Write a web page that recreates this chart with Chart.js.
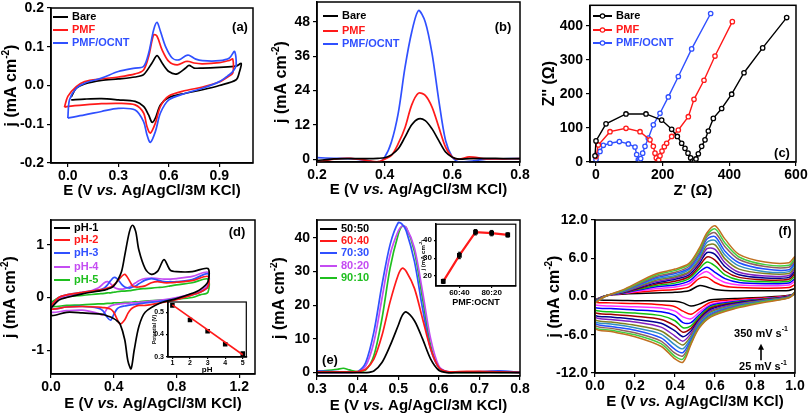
<!DOCTYPE html>
<html>
<head>
<meta charset="utf-8">
<script src="https://cdn.jsdelivr.net/npm/chart.js@4.4.1/dist/chart.umd.min.js"></script>
<style>
  body { margin: 0; background: #fff; width: 810px; height: 416px; position: relative; overflow: hidden; }
  canvas { position: absolute; }
</style>
</head>
<body>
<canvas id="pa" width="270" height="206" style="left:0;top:0"></canvas>
<canvas id="pb" width="270" height="206" style="left:270px;top:0"></canvas>
<canvas id="pc" width="270" height="206" style="left:540px;top:0"></canvas>
<canvas id="pd" width="270" height="210" style="left:0;top:206px"></canvas>
<canvas id="pe" width="270" height="210" style="left:270px;top:206px"></canvas>
<canvas id="pf" width="270" height="210" style="left:540px;top:206px"></canvas>
<canvas id="pdi" width="102" height="78" style="left:150px;top:296px"></canvas>
<canvas id="pei" width="104" height="92" style="left:418px;top:218px"></canvas>
<script>
// ---- (a) CV of bare / PMF / PMF-OCNT ----
const aXTicks = [0, 0.3, 0.6, 0.9];
const aYTicks = [-0.2, -0.1, 0, 0.1, 0.2];
const aBareX = [0.02, 0.05, 0.1, 0.2, 0.3, 0.4, 0.45, 0.5, 0.53, 0.56, 0.6, 0.65, 0.7, 0.72, 0.75, 0.8, 0.9, 1.0, 1.03, 1.02, 1.0, 0.9, 0.8, 0.7, 0.6, 0.55, 0.52, 0.5, 0.48, 0.45, 0.4, 0.3, 0.2, 0.1, 0.02];
const aBareY = [-0.03, -0.007, 0.004, 0.013, 0.017, 0.022, 0.028, 0.058, 0.077, 0.058, 0.036, 0.03, 0.045, 0.052, 0.045, 0.045, 0.047, 0.05, 0.057, 0.036, 0.015, 0.0, -0.011, -0.02, -0.031, -0.05, -0.084, -0.095, -0.076, -0.054, -0.041, -0.037, -0.034, -0.035, -0.037];
const aPmfX = [-0.02, 0.0, 0.05, 0.1, 0.2, 0.3, 0.4, 0.45, 0.48, 0.51, 0.53, 0.56, 0.6, 0.65, 0.7, 0.72, 0.75, 0.8, 0.9, 0.96, 0.98, 0.98, 0.95, 0.9, 0.8, 0.7, 0.6, 0.55, 0.52, 0.49, 0.47, 0.45, 0.4, 0.3, 0.2, 0.1, 0.0, -0.02];
const aPmfY = [-0.056, -0.028, -0.003, 0.010, 0.017, 0.022, 0.030, 0.040, 0.075, 0.131, 0.127, 0.092, 0.062, 0.053, 0.062, 0.062, 0.058, 0.056, 0.059, 0.065, 0.068, 0.032, 0.022, 0.009, -0.004, -0.013, -0.027, -0.054, -0.097, -0.123, -0.106, -0.071, -0.05, -0.046, -0.047, -0.05, -0.054, -0.056];
const aOcntX = [0.0, 0.01, 0.05, 0.1, 0.2, 0.3, 0.4, 0.45, 0.48, 0.51, 0.53, 0.55, 0.58, 0.62, 0.66, 0.7, 0.72, 0.76, 0.8, 0.9, 0.96, 0.99, 1.0, 0.98, 0.95, 0.9, 0.8, 0.7, 0.6, 0.55, 0.52, 0.49, 0.47, 0.45, 0.4, 0.3, 0.2, 0.1, 0.0];
const aOcntY = [-0.084, -0.037, -0.007, 0.006, 0.019, 0.036, 0.045, 0.049, 0.083, 0.144, 0.163, 0.14, 0.101, 0.071, 0.066, 0.077, 0.078, 0.068, 0.064, 0.064, 0.071, 0.088, 0.053, 0.036, 0.025, 0.010, -0.007, -0.02, -0.037, -0.071, -0.119, -0.147, -0.127, -0.093, -0.063, -0.059, -0.067, -0.076, -0.084];

// ---- (b) DPV ----
const bXTicks = [0.2, 0.4, 0.6, 0.8];
const bYTicks = [0, 12, 24, 36, 48];
const bX = [0.2, 0.25, 0.3, 0.35, 0.38, 0.4, 0.42, 0.44, 0.46, 0.48, 0.5, 0.52, 0.54, 0.56, 0.58, 0.6, 0.62, 0.65, 0.7, 0.75, 0.8];
const bBare = [-0.5, 0.1, 0.2, 0.2, 0.3, 0.5, 1.5, 3.6, 7.7, 12.0, 14.1, 13.5, 10.6, 6.5, 2.5, 0.7, 0.0, 0.2, 0.3, 0.2, 0.2];
const bPmf = [-1.0, 0.0, 0.3, -0.5, -0.9, 0.0, 1.3, 5.4, 11.0, 19.0, 23.1, 22.3, 18.2, 11.2, 4.2, 0.7, 0.0, 0.8, 0.1, 0.1, 0.2];
const bOcnt = [0.5, 0.3, 0.2, -0.5, -1.2, 0.7, 6.0, 16.0, 32.0, 44.5, 52.0, 48.0, 37.0, 20.6, 6.5, 0.7, -1.0, -0.8, 0.0, 0.1, 0.2];

// ---- (c) Nyquist ----
const cXTicks = [0, 200, 400, 600];
const cYTicks = [0, 100, 200, 300, 400];
const cBareX = [-3, 0, 30, 90, 150, 197, 227, 244, 257, 267, 276, 284, 290, 295, 300, 307, 317, 327, 337, 352, 377, 407, 444, 500, 572];
const cBareY = [18, 62, 112, 141, 141, 123, 96, 75, 55, 40, 26, 12, 3, 1, 9, 24, 46, 65, 91, 128, 157, 199, 262, 335, 424];
const cPmfX = [0, 7, 42, 90, 132, 162, 172, 177, 181, 185, 188, 192, 198, 205, 212, 227, 247, 277, 294, 324, 357, 409];
const cPmfY = [16, 50, 89, 99, 89, 65, 46, 26, 12, 2, 6, 18, 32, 45, 55, 75, 94, 133, 184, 240, 311, 412];
const cOcntX = [0, 2, 12, 22, 42, 70, 97, 117, 122, 127, 130, 134, 140, 147, 157, 172, 192, 217, 247, 287, 344];
const cOcntY = [7, 21, 31, 49, 55, 60, 53, 44, 22, 6, 2, 10, 26, 46, 70, 109, 143, 191, 251, 332, 436];

// ---- (d) CV at different pH ----
const dXTicks = [0, 0.4, 0.8, 1.2];
const dYTicks = [-1, 0, 1];
const dLabels = ['pH-1', 'pH-2', 'pH-3', 'pH-4', 'pH-5'];
const dTopX = [0, 0.05, 0.1, 0.2, 0.3, 0.34, 0.36, 0.38, 0.4, 0.42, 0.45, 0.47, 0.5, 0.52, 0.54, 0.56, 0.6, 0.64, 0.68, 0.72, 0.76, 0.8, 0.9, 1.0];
const dBotX = [1.0, 0.95, 0.9, 0.8, 0.7, 0.6, 0.56, 0.53, 0.51, 0.49, 0.47, 0.44, 0.42, 0.4, 0.38, 0.36, 0.33, 0.3, 0.2, 0.1, 0.0];
const dTopY = [
  [-0.2, -0.05, 0.0, 0.07, 0.12, 0.14, 0.16, 0.18, 0.22, 0.3, 0.5, 0.8, 1.25, 1.37, 1.25, 0.9, 0.55, 0.44, 0.5, 0.72, 0.52, 0.49, 0.49, 0.55],
  [-0.15, 0.0, 0.05, 0.1, 0.14, 0.16, 0.18, 0.2, 0.24, 0.3, 0.4, 0.44, 0.32, 0.22, 0.2, 0.2, 0.22, 0.28, 0.3, 0.28, 0.28, 0.29, 0.32, 0.4],
  [-0.15, 0.0, 0.05, 0.1, 0.14, 0.18, 0.24, 0.32, 0.38, 0.36, 0.25, 0.2, 0.18, 0.2, 0.22, 0.26, 0.33, 0.36, 0.33, 0.3, 0.3, 0.3, 0.34, 0.45],
  [-0.2, -0.02, 0.03, 0.08, 0.18, 0.28, 0.3, 0.26, 0.2, 0.17, 0.16, 0.17, 0.2, 0.24, 0.28, 0.32, 0.36, 0.37, 0.36, 0.35, 0.35, 0.36, 0.4, 0.48],
  [-0.1, 0.0, 0.02, 0.04, 0.07, 0.08, 0.09, 0.09, 0.1, 0.11, 0.12, 0.12, 0.13, 0.14, 0.15, 0.16, 0.17, 0.18, 0.19, 0.2, 0.22, 0.24, 0.28, 0.35]
];
const dBotY = [
  [0.3, 0.15, 0.08, -0.02, -0.1, -0.28, -0.55, -1.0, -1.35, -1.2, -0.8, -0.5, -0.44, -0.4, -0.37, -0.35, -0.32, -0.31, -0.29, -0.28, -0.34],
  [0.2, 0.1, 0.05, -0.04, -0.1, -0.15, -0.15, -0.18, -0.22, -0.3, -0.42, -0.5, -0.4, -0.28, -0.22, -0.2, -0.19, -0.18, -0.17, -0.18, -0.22],
  [0.2, 0.1, 0.05, -0.02, -0.07, -0.1, -0.12, -0.13, -0.14, -0.15, -0.16, -0.18, -0.22, -0.32, -0.43, -0.38, -0.25, -0.2, -0.17, -0.18, -0.22],
  [0.25, 0.12, 0.07, 0.0, -0.05, -0.08, -0.09, -0.1, -0.1, -0.11, -0.11, -0.12, -0.13, -0.14, -0.16, -0.2, -0.33, -0.3, -0.24, -0.25, -0.28],
  [0.1, 0.05, 0.0, -0.03, -0.05, -0.07, -0.08, -0.08, -0.09, -0.09, -0.09, -0.1, -0.1, -0.1, -0.11, -0.11, -0.12, -0.12, -0.14, -0.15, -0.17]
];
// inset (d): peak potential vs pH
const dInX = [1, 2, 3, 4, 5];
const dInY = [0.53, 0.465, 0.415, 0.357, 0.315];
const dFitX = [1, 5];
const dFitY = [0.532, 0.31];
const dInXTicks = [1, 2, 3, 4, 5];
const dInYTicks = [0.3, 0.4, 0.5];

// ---- (e) DPV for PMF:OCNT ratios ----
const eXTicks = [0.3, 0.4, 0.5, 0.6, 0.7, 0.8];
const eYTicks = [0, 10, 20, 30, 40];
const eLabels = ['50:50', '60:40', '70:30', '80:20', '90:10'];
const eX = [0.3, 0.35, 0.365, 0.38, 0.4, 0.42, 0.44, 0.46, 0.48, 0.5, 0.51, 0.52, 0.54, 0.56, 0.58, 0.6, 0.62, 0.65, 0.7, 0.75, 0.8];
const eY = [
  [0, 0, 0, 0, 0, 0, 0.5, 3.0, 8.0, 14.0, 17.0, 18.0, 15.4, 10.0, 4.0, 0.7, 0, 0, 0, 0, 0],
  [0.2, 0.2, 0.2, 0.2, 0.3, 1.0, 4.0, 11.0, 21.0, 29.0, 31.0, 30.0, 25.0, 16.0, 7.0, 1.5, 0.3, 0.3, 0.4, 0.2, 0.1],
  [0.5, 0.3, 0.2, 0.3, 0.3, 3.0, 12.0, 26.0, 38.0, 44.5, 44.0, 42.0, 33.0, 19.0, 7.0, 1.5, 0.3, 0.2, 0.3, 0.5, 0.1],
  [0, 0, 0, 0, 0.2, 2.0, 9.0, 22.0, 35.0, 42.0, 43.5, 43.0, 37.0, 24.0, 10.0, 2.0, 0.3, 0.2, 0.2, 0.2, 0],
  [0.3, 1.0, 1.3, 0.8, 0.3, 0.8, 5.0, 16.0, 31.0, 41.0, 43.5, 43.0, 36.0, 22.0, 8.0, 1.5, 0.2, 0.1, 0.1, 0.1, 0]
];
// inset (e): peak current vs ratio
const eInX = [0, 1, 2, 3, 4];
const eInY = [17, 31.5, 44.5, 44, 43];
const eInErr = [1.2, 1.8, 1.5, 1.5, 1.2];
const eInXTicks = [1, 3];
const eInYTicks = [20, 30, 40];

// ---- (f) CV at scan rates 25..350 mV/s ----
const fXTicks = [0, 0.2, 0.4, 0.6, 0.8, 1.0];
const fYTicks = [-12, -6, 0, 6, 12];
const fRates = [25, 50, 75, 100, 125, 150, 175, 200, 225, 250, 275, 300, 325, 350];
const fTopX = [0, 0.05, 0.15, 0.3, 0.4, 0.47, 0.52, 0.56, 0.6, 0.65, 0.72, 0.85, 0.97, 1.0];
const fBotX = [1.0, 0.97, 0.85, 0.7, 0.58, 0.52, 0.48, 0.44, 0.4, 0.33, 0.2, 0.08, 0];
const fTopY = [
  [-0.5, 0.1, 0.4, 0.55, 0.65, 0.9, 1.7, 1.5, 1.1, 0.95, 0.9, 0.9, 0.95, 1.2],
  [-0.6, 0.1, 0.5, 0.9, 1.1, 1.5, 2.8, 3.0, 2.2, 1.6, 1.4, 1.3, 1.4, 1.8],
  [-0.6, 0.1, 0.55, 1.2, 1.5, 2.0, 3.3, 3.9, 3.0, 2.2, 1.8, 1.7, 1.8, 2.3],
  [-0.7, 0.1, 0.6, 1.5, 1.8, 2.4, 3.8, 4.6, 3.8, 2.8, 2.2, 2.0, 2.1, 2.7],
  [-0.7, 0.1, 0.65, 1.7, 2.1, 2.8, 4.3, 5.4, 4.8, 3.4, 2.6, 2.3, 2.4, 3.1],
  [-0.8, 0.1, 0.7, 1.9, 2.4, 3.1, 4.7, 6.2, 5.7, 4.0, 3.0, 2.6, 2.7, 3.5],
  [-0.8, 0.05, 0.75, 2.1, 2.7, 3.4, 5.1, 6.9, 6.6, 4.7, 3.4, 2.9, 3.0, 3.9],
  [-0.8, 0.05, 0.8, 2.3, 2.9, 3.7, 5.5, 7.5, 7.4, 5.3, 3.8, 3.2, 3.3, 4.3],
  [-0.9, 0.05, 0.85, 2.5, 3.1, 3.9, 5.8, 8.0, 8.1, 5.9, 4.3, 3.6, 3.6, 4.6],
  [-0.9, 0.05, 0.9, 2.7, 3.3, 4.2, 6.1, 8.5, 8.8, 6.5, 4.8, 3.9, 3.9, 5.0],
  [-0.9, 0.0, 0.95, 2.9, 3.6, 4.4, 6.5, 9.0, 9.4, 7.1, 5.3, 4.3, 4.2, 5.3],
  [-1.0, 0.0, 1.0, 3.1, 3.8, 4.7, 6.8, 9.4, 10.0, 7.8, 5.8, 4.7, 4.6, 5.6],
  [-1.0, 0.0, 1.1, 3.3, 4.1, 5.0, 7.2, 9.7, 10.6, 8.4, 6.2, 5.0, 4.9, 5.9],
  [-1.0, 0.0, 1.2, 3.5, 4.3, 5.2, 7.5, 10.0, 11.1, 9.0, 6.6, 5.4, 5.3, 6.2]
];
const fBotY = [
  [0.6, 0.2, -0.1, -0.3, -0.5, -1.2, -1.5, -1.0, -0.75, -0.7, -0.65, -0.6, -0.5],
  [0.6, 0.1, -0.2, -0.5, -0.9, -2.0, -2.8, -2.3, -1.6, -1.3, -1.1, -1.0, -0.9],
  [0.6, 0.1, -0.3, -0.7, -1.2, -2.5, -3.5, -3.2, -2.3, -1.8, -1.6, -1.5, -1.3],
  [0.7, 0.05, -0.35, -0.8, -1.4, -2.9, -4.1, -4.1, -3.0, -2.4, -2.1, -1.9, -1.7],
  [0.7, 0.0, -0.4, -0.9, -1.6, -3.2, -4.6, -4.9, -3.8, -3.0, -2.6, -2.4, -2.1],
  [0.7, 0.0, -0.45, -1.0, -1.8, -3.5, -5.0, -5.6, -4.6, -3.6, -3.1, -2.8, -2.5],
  [0.7, 0.0, -0.5, -1.1, -2.0, -3.7, -5.4, -6.3, -5.4, -4.2, -3.6, -3.2, -2.9],
  [0.8, -0.05, -0.55, -1.2, -2.2, -3.9, -5.8, -7.0, -6.2, -4.8, -4.0, -3.6, -3.2],
  [0.8, -0.05, -0.6, -1.35, -2.4, -4.1, -6.2, -7.6, -6.9, -5.4, -4.5, -4.0, -3.6],
  [0.8, -0.1, -0.65, -1.45, -2.6, -4.3, -6.5, -8.2, -7.6, -5.9, -4.9, -4.3, -3.9],
  [0.8, -0.1, -0.7, -1.55, -2.8, -4.5, -6.8, -8.8, -8.3, -6.5, -5.3, -4.7, -4.2],
  [0.8, -0.15, -0.75, -1.65, -2.95, -4.7, -7.1, -9.3, -8.9, -7.0, -5.7, -5.0, -4.5],
  [0.8, -0.15, -0.8, -1.75, -3.1, -4.85, -7.3, -9.8, -9.4, -7.4, -6.0, -5.3, -4.8],
  [0.8, -0.2, -0.9, -1.9, -3.2, -5.0, -7.5, -10.3, -9.8, -7.8, -6.3, -5.5, -5.0]
];

const FONT = '"Liberation Sans", Arial, sans-serif';
const BLUE = '#3050ff', RED = '#ff1a1a', GREEN = '#1fbf1f', VIOLET = '#c44cf2';
const fColors = ['#000000', '#ff0000', '#ff30ff', '#0000ff', '#10c010', '#a00000', '#000090', '#8020c0', '#808020', '#3090c0', '#2050ff', '#906060', '#40d040', '#c07020'];

// build {x,y} points from two arrays
function pts(xs, ys) {
  return xs.map((x, i) => ({ x: x, y: ys[i] }));
}

// closed CV loop from forward and reverse branches
function loop(tx, ty, bx, by) {
  const p = pts(tx, ty).concat(pts(bx, by));
  p.push(p[0]);
  return p;
}

function curve(data, color, extra) {
  return Object.assign({
    data: data, showLine: true, borderColor: color, backgroundColor: color,
    borderWidth: 1.7, pointRadius: 0, tension: 0.3
  }, extra || {});
}

// draw a text made of normal / italic / superscript pieces, centred at x,y
function rich(ctx, parts, x, y, size, rotate, color) {
  ctx.save();
  ctx.translate(x, y);
  if (rotate) ctx.rotate(-Math.PI / 2);
  const fontFor = s => (s === 'i' ? 'italic bold ' : 'bold ') + (s === 'sup' ? Math.round(size * 0.62) : size) + 'px ' + FONT;
  let w = 0;
  parts.forEach(p => { ctx.font = fontFor(p[1]); w += ctx.measureText(p[0]).width; });
  let cx = -w / 2;
  ctx.textBaseline = 'middle';
  ctx.textAlign = 'left';
  ctx.fillStyle = color || '#000';
  parts.forEach(p => {
    ctx.font = fontFor(p[1]);
    ctx.fillText(p[0], cx, p[1] === 'sup' ? -size * 0.38 : 0);
    cx += ctx.measureText(p[0]).width;
  });
  ctx.restore();
}

const X_TITLE = [['E (V ', ''], ['vs.', 'i'], [' Ag/AgCl/3M KCl)', '']];
const J_TITLE = [['j (mA cm', ''], ['-2', 'sup'], [')', '']];

// frame, axis titles, legend, panel letter
function deco(cfg) {
  return {
    id: 'deco',
    beforeDraw(chart) {
      if (cfg.fill) {
        const a = chart.chartArea, ctx = chart.ctx;
        ctx.save();
        ctx.fillStyle = '#fff';
        ctx.fillRect(a.left, a.top, a.right - a.left, a.bottom - a.top);
        ctx.restore();
      }
    },
    afterDatasetsDraw(chart) {
      if (cfg.afterData) cfg.afterData(chart);
    },
    afterDraw(chart) {
      const a = chart.chartArea, ctx = chart.ctx;
      ctx.save();
      ctx.strokeStyle = '#000';
      ctx.lineWidth = cfg.frameWidth || 1.5;
      ctx.strokeRect(a.left, a.top, a.right - a.left, a.bottom - a.top);
      ctx.restore();
      if (cfg.xTitle) rich(ctx, cfg.xTitle, (a.left + a.right) / 2, cfg.xTitleY, 15, false);
      if (cfg.yTitle) rich(ctx, cfg.yTitle, cfg.yTitleX, (a.top + a.bottom) / 2, 16, true);
      if (cfg.legend) {
        const L = cfg.legend;
        L.items.forEach((it, i) => {
          const y = L.rows[i];
          ctx.save();
          ctx.strokeStyle = it.color;
          ctx.lineWidth = 2;
          ctx.beginPath();
          ctx.moveTo(L.x, y);
          ctx.lineTo(L.x + L.len, y);
          ctx.stroke();
          if (L.marker) {
            ctx.fillStyle = '#fff';
            ctx.lineWidth = 1.2;
            ctx.beginPath();
            ctx.arc(L.x + L.len / 2, y, 2.2, 0, Math.PI * 2);
            ctx.fill();
            ctx.stroke();
          }
          ctx.fillStyle = it.color;
          ctx.font = 'bold 11px ' + FONT;
          ctx.textBaseline = 'middle';
          ctx.textAlign = 'left';
          ctx.fillText(it.text, L.x + L.len + 4, y);
          ctx.restore();
        });
      }
      if (cfg.letter) {
        ctx.save();
        ctx.fillStyle = '#000';
        ctx.font = 'bold 13px ' + FONT;
        ctx.textAlign = 'center';
        ctx.textBaseline = 'middle';
        ctx.fillText(cfg.letter[0], cfg.letter[1], cfg.letter[2]);
        ctx.restore();
      }
      if (cfg.extra) cfg.extra(chart);
    }
  };
}

function axis(min, max, ticks, fmt, size, isX, fontSize, tickLen) {
  return {
    type: 'linear', min: min, max: max,
    afterBuildTicks: s => { s.ticks = ticks.map(v => ({ value: v })); },
    afterFit: s => {
      if (isX) { s.height = size; s.paddingLeft = 0; s.paddingRight = 0; }
      else { s.width = size; s.paddingTop = 0; s.paddingBottom = 0; }
    },
    ticks: {
      callback: fmt, color: '#000', autoSkip: false, maxRotation: 0,
      padding: isX ? (fontSize ? 0 : 1) : (fontSize ? 2 : 3),
      font: { family: FONT, size: fontSize || 14, weight: 'bold' }
    },
    grid: { display: true, drawOnChartArea: false, drawTicks: true, tickLength: tickLen || 4, color: '#000', lineWidth: 1.2 },
    border: { display: true, color: '#000', width: 1.5 }
  };
}

// area = [left, top, right, bottom] of the plot inside the canvas
function panel(id, area, xs, ys, datasets, cfg) {
  const cv = document.getElementById(id);
  return new Chart(cv, {
    type: 'scatter',
    data: { datasets: datasets },
    options: {
      responsive: false, animation: false, devicePixelRatio: 1,
      layout: { padding: { left: 0, top: area[1], right: cv.width - area[2], bottom: 0 } },
      plugins: { legend: { display: false }, tooltip: { enabled: false } },
      scales: {
        x: axis(xs[0], xs[1], xs[2], xs[3], cv.height - area[3], true, xs[4], xs[5]),
        y: axis(ys[0], ys[1], ys[2], ys[3], area[0], false, ys[4], ys[5])
      }
    },
    plugins: [deco(cfg)]
  });
}

const f1 = v => v.toFixed(1);
const f0 = v => String(v);

// (a)
panel('pa', [51, 8, 253, 163], [-0.1, 1.1, aXTicks, f1], [-0.2, 0.2, aYTicks, f1], [
  curve(pts(aOcntX, aOcntY), BLUE),
  curve(pts(aPmfX, aPmfY), RED),
  curve(pts(aBareX, aBareY), '#000')
], {
  xTitle: X_TITLE, xTitleY: 191, yTitle: J_TITLE, yTitleX: 12,
  legend: { x: 53, len: 15, rows: [17, 30, 43], items: [
    { text: 'Bare', color: '#000' }, { text: 'PMF', color: RED }, { text: 'PMF/OCNT', color: BLUE }] },
  letter: ['(a)', 240, 27]
});

// (b)
panel('pb', [47, 2, 250, 162], [0.2, 0.8, bXTicks, f1], [-1, 55, bYTicks, f0], [
  curve(pts(bX, bBare), '#000'),
  curve(pts(bX, bPmf), RED),
  curve(pts(bX, bOcnt), BLUE)
], {
  xTitle: X_TITLE, xTitleY: 190, yTitle: J_TITLE, yTitleX: 12,
  legend: { x: 53, len: 15, rows: [16, 31, 44], items: [
    { text: 'Bare', color: '#000' }, { text: 'PMF', color: RED }, { text: 'PMF/OCNT', color: BLUE }] },
  letter: ['(b)', 233, 27]
});

// (c)
const cMark = { tension: 0, pointRadius: 2.2, pointBorderWidth: 1.3, pointBackgroundColor: '#fff', borderWidth: 1.4 };
panel('pc', [50, 3, 256, 162], [-18, 600, cXTicks, f0], [0, 460, cYTicks, f0], [
  curve(pts(cBareX, cBareY), '#000', cMark),
  curve(pts(cPmfX, cPmfY), RED, cMark),
  curve(pts(cOcntX, cOcntY), BLUE, cMark)
], {
  xTitle: [["Z' (\u03A9)", '']], xTitleY: 191, yTitle: [["Z'' (\u03A9)", '']], yTitleX: 10,
  legend: { x: 53, len: 19, marker: true, rows: [16, 30, 43], items: [
    { text: 'Bare', color: '#000' }, { text: 'PMF', color: RED }, { text: 'PMF/OCNT', color: BLUE }] },
  letter: ['(c)', 242, 153]
});

// (d)
const dColors = ['#000000', RED, BLUE, VIOLET, GREEN];
panel('pd', [51, 14, 255, 168], [0, 1.3, dXTicks, f1], [-1.45, 1.47, dYTicks, f0],
  dLabels.map((l, i) => curve(loop(dTopX, dTopY[i], dBotX, dBotY[i]), dColors[i])), {
  xTitle: X_TITLE, xTitleY: 198, yTitle: J_TITLE, yTitleX: 11,
  legend: { x: 54, len: 16, rows: [22, 34, 47, 61, 74], items: dLabels.map((l, i) => ({ text: l, color: dColors[i] })) },
  letter: ['(d)', 237, 26]
});

// (d) inset
panel('pdi', [18, 6, 98, 61], [0.75, 5.2, dInXTicks, f0, 7, 2], [0.3, 0.545, dInYTicks, f1, 7, 2], [
  curve(pts(dFitX, dFitY), RED, { tension: 0, borderWidth: 1.6 }),
  curve(pts(dInX, dInY), '#000', { showLine: false, pointRadius: 2, pointStyle: 'rect' })
], {
  fill: true, frameWidth: 1.2,
  extra(chart) {
    const a = chart.chartArea;
    rich(chart.ctx, [['pH', '']], (a.left + a.right) / 2, 74, 8, false);
    rich(chart.ctx, [['Potential (V)', '']], 5, (a.top + a.bottom) / 2, 5, true);
  }
});

// (e)
const eColors = ['#000000', RED, BLUE, VIOLET, GREEN];
panel('pe', [47, 14, 250, 170], [0.3, 0.8, eXTicks, f1], [-1, 45.3, eYTicks, f0],
  eLabels.map((l, i) => curve(pts(eX, eY[i]), eColors[i])), {
  xTitle: X_TITLE, xTitleY: 200, yTitle: J_TITLE, yTitleX: 10,
  legend: { x: 50, len: 17, rows: [23, 35, 47, 60, 72], items: eLabels.map((l, i) => ({ text: l, color: eColors[i] })) },
  letter: ['(e)', 60, 154]
});

// (e) inset
panel('pei', [18, 6, 100, 68], [-0.45, 4.5, eInXTicks, v => eLabels[v], 8, 2], [14.4, 49, eInYTicks, f0, 8, 2], [
  curve(pts(eInX, eInY), RED, { tension: 0, borderWidth: 2.2, pointRadius: 1.8, pointStyle: 'rect', pointBackgroundColor: '#000', pointBorderColor: '#000' })
], {
  fill: true, frameWidth: 1.2,
  afterData(chart) {
    const ctx = chart.ctx, xs = chart.scales.x, ys = chart.scales.y;
    ctx.save();
    ctx.strokeStyle = '#000';
    ctx.lineWidth = 1;
    eInX.forEach((v, i) => {
      const px = xs.getPixelForValue(v);
      const y1 = ys.getPixelForValue(eInY[i] - eInErr[i]), y2 = ys.getPixelForValue(eInY[i] + eInErr[i]);
      ctx.beginPath();
      ctx.moveTo(px, y1); ctx.lineTo(px, y2);
      ctx.moveTo(px - 1.5, y1); ctx.lineTo(px + 1.5, y1);
      ctx.moveTo(px - 1.5, y2); ctx.lineTo(px + 1.5, y2);
      ctx.stroke();
    });
    ctx.restore();
  },
  extra(chart) {
    const a = chart.chartArea;
    rich(chart.ctx, [['PMF:OCNT', '']], (a.left + a.right) / 2, 85, 9, false);
    rich(chart.ctx, [['j (mA cm', ''], ['-2', 'sup'], [')', '']], 5, (a.top + a.bottom) / 2, 6, true);
  }
});

// (f)
panel('pf', [55, 14, 255, 167], [0, 1.0, fXTicks, f1], [-12, 12, fYTicks, f1],
  fRates.map((r, i) => curve(loop(fTopX, fTopY[i], fBotX, fBotY[i]), fColors[i], { borderWidth: 1.5 })).reverse(), {
  xTitle: X_TITLE, xTitleY: 196, yTitle: J_TITLE, yTitleX: 15,
  letter: ['(f)', 245, 25],
  extra(chart) {
    const ctx = chart.ctx, xs = chart.scales.x, ys = chart.scales.y;
    const ax = xs.getPixelForValue(0.83);
    const yb = ys.getPixelForValue(-10.0), yt = ys.getPixelForValue(-7.4);
    ctx.save();
    ctx.strokeStyle = '#000';
    ctx.fillStyle = '#000';
    ctx.lineWidth = 1.6;
    ctx.beginPath();
    ctx.moveTo(ax, yb); ctx.lineTo(ax, yt + 4);
    ctx.stroke();
    ctx.beginPath();
    ctx.moveTo(ax, yt); ctx.lineTo(ax - 3, yt + 6); ctx.lineTo(ax + 3, yt + 6);
    ctx.closePath();
    ctx.fill();
    ctx.restore();
    rich(ctx, [['350 mV s', ''], ['-1', 'sup']], ax, ys.getPixelForValue(-5.8), 11, false);
    rich(ctx, [['25 mV s', ''], ['-1', 'sup']], ax + 2, ys.getPixelForValue(-11.1), 11, false);
  }
});
</script>
</body>
</html>
